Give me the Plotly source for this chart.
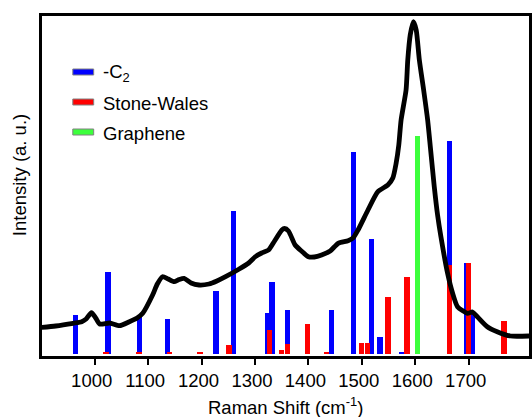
import plotly.graph_objects as go

# ---- data ----
spec_x = [900, 927, 959.6, 975.8, 984, 993.9, 1001.9, 1009.3, 1027.9, 1046.5, 1065, 1079.4,
          1089.9, 1108.4, 1117.2, 1127, 1137.6, 1148.8, 1158, 1167.4, 1180.4, 1195.3, 1213.9,
          1228.8, 1245, 1269.7, 1288.3, 1300.8, 1312.5, 1325.5, 1336.7, 1350.3, 1355.3, 1362.7,
          1375.2, 1386.9, 1399.9, 1411, 1424.7, 1440.8, 1455.7, 1474.3, 1483.6, 1492.9, 1511.5,
          1530.1, 1548.7, 1558, 1564.2, 1569.2, 1573.5, 1582.8, 1586, 1590.6, 1596.5, 1601.8,
          1607.7, 1615.7, 1623.2, 1628.8, 1635.6, 1641.8, 1648, 1660.5, 1669.8, 1679.1, 1697.7,
          1707, 1716.2, 1734.8, 1753.4, 1778.1, 1813]
spec_y = [26.5, 28, 30.7, 32.3, 35, 41.3, 36, 30, 31, 28.3, 32.3, 36,
          40.7, 59, 70, 77.3, 75, 72.3, 74.5, 75.7, 71, 69, 70,
          73, 77.3, 84.7, 91, 97.3, 101, 104, 113, 124, 125.5, 123,
          109, 103, 97.3, 97, 99, 103, 110.7, 113.3, 116, 124, 144,
          162.3, 169, 176, 190.7, 209, 234, 264, 294, 319, 332.3, 324,
          294, 264, 234, 204, 167.3, 139, 117.3, 80.7, 61, 47.3, 40.7,
          42, 37.3, 27.3, 22.3, 18, 18]

c2_x = [964.7, 1025, 1084, 1135.6, 1227, 1260, 1323, 1332, 1361, 1443.7, 1484, 1518.5, 1534,
        1575, 1664, 1695.7, 1706]
c2_y = [39, 82, 39, 35, 63, 143, 41, 72, 44, 44, 202, 115, 17, 2, 213, 91, 43]

sw_x = [1021, 1083, 1140, 1197, 1251.6, 1327, 1350, 1361, 1398.5, 1434, 1499, 1510, 1549,
        1584.5, 1664, 1700, 1766]
sw_y = [2.5, 2.5, 2.5, 2, 9, 24, 4.5, 10, 30, 2.5, 11, 11, 57, 77, 89, 91, 33]

gr_x = [1604.6]
gr_y = [218]

tick_vals = [1000, 1100, 1200, 1300, 1400, 1500, 1600, 1700]
tick_text = [str(v) for v in tick_vals]

# ---- layout geometry (pixels) ----
W, H = 532, 417
ML, MR, MT, MB = 42, 0, 16, 61
PW, PH = W - ML - MR, H - MT - MB
FONT = "Liberation Sans, Arial, sans-serif"
FS = 18.5


def px(x):
    return (x - ML) / PW


def py(y):
    return (H - MB - y) / PH


BW = 9.8
fig = go.Figure()
fig.add_trace(go.Bar(x=c2_x, y=c2_y, width=BW, marker=dict(color="#0000ff", line=dict(width=0)),
                     name="-C2", showlegend=False))
fig.add_trace(go.Bar(x=sw_x, y=sw_y, width=BW, marker=dict(color="#ff0000", line=dict(width=0)),
                     name="Stone-Wales", showlegend=False))
fig.add_trace(go.Bar(x=gr_x, y=gr_y, width=BW, marker=dict(color="#3cff3c", line=dict(width=0)),
                     name="Graphene", showlegend=False))
fig.add_trace(go.Scatter(x=spec_x, y=spec_y, mode="lines",
                         line=dict(color="black", width=4.8, shape="spline", smoothing=0.6),
                         showlegend=False, hoverinfo="skip"))

# manual legend
legend_items = [("-C<sub>2</sub>", "#0000ff", 72), ("Stone-Wales", "#ff0000", 102),
                ("Graphene", "#3cff3c", 132)]
shapes = []
annotations = []
for label, col, yc in legend_items:
    shapes.append(dict(type="rect", xref="paper", yref="paper",
                       x0=px(73), x1=px(94), y0=py(yc + 3), y1=py(yc - 3),
                       fillcolor=col, line=dict(color="#808080", width=1)))
    annotations.append(dict(text=label, xref="paper", yref="paper", x=px(101), y=py(yc + 1),
                            xanchor="left", yanchor="middle", showarrow=False,
                            font=dict(family=FONT, size=FS, color="black")))

annotations.append(dict(text="Raman Shift (cm<sup>-1</sup>)", xref="paper", yref="paper",
                        x=px(287), y=py(406), xanchor="center", yanchor="middle",
                        showarrow=False, font=dict(family=FONT, size=FS, color="black")))
annotations.append(dict(text="Intensity (a. u.)", xref="paper", yref="paper",
                        x=px(19), y=py(175), xanchor="center", yanchor="middle",
                        textangle=-90, showarrow=False,
                        font=dict(family=FONT, size=FS, color="black")))

fig.update_layout(
    width=W, height=H, margin=dict(l=ML, r=MR, t=MT, b=MB, pad=0),
    paper_bgcolor="white", plot_bgcolor="white",
    barmode="overlay", bargap=0, showlegend=False,
    shapes=shapes, annotations=annotations,
    font=dict(family=FONT, size=FS, color="black"),
    xaxis=dict(range=[901.4, 1812.9], tickvals=tick_vals, ticktext=tick_text,
               ticks="outside", ticklen=6, tickwidth=2, tickcolor="black",
               ticklabelshift=-3,
               showline=True, linewidth=2.6, linecolor="black", mirror=True,
               showgrid=False, zeroline=False,
               tickfont=dict(family=FONT, size=FS, color="black")),
    yaxis=dict(range=[-2, 338], showticklabels=False, ticks="",
               showline=True, linewidth=2.6, linecolor="black", mirror=True,
               showgrid=False, zeroline=False),
)

fig.write_html("out.html")
